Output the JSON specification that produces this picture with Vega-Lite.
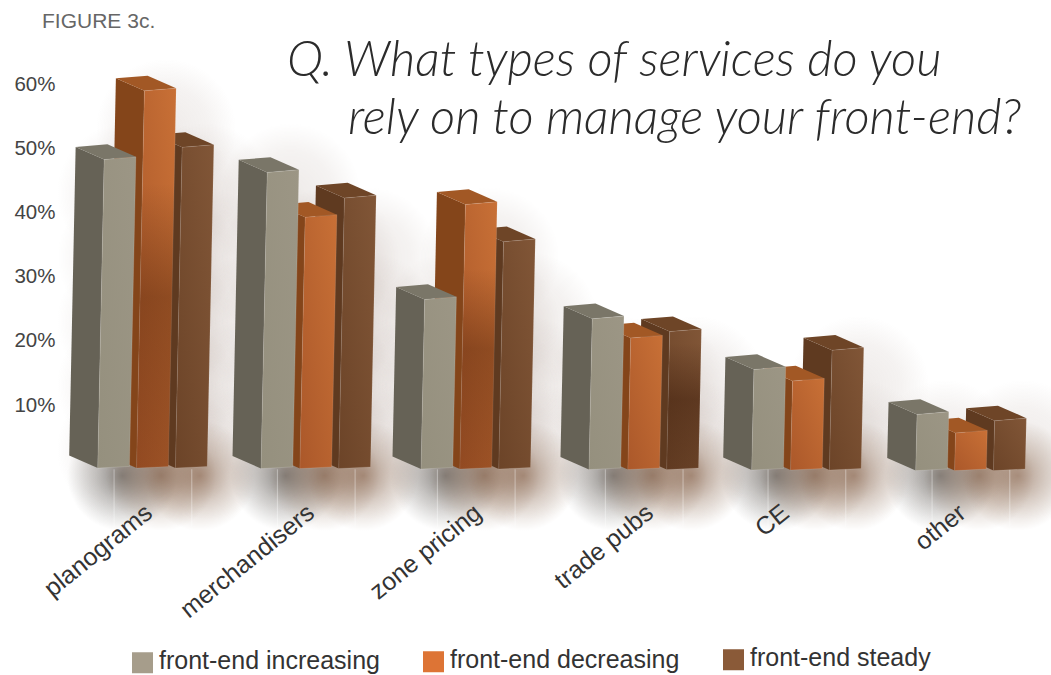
{
  "$schema": "https://vega.github.io/schema/vega-lite/v6.json",
  "width": 991,
  "height": 495,
  "autosize": {"type": "none"},
  "padding": {"left": 60, "top": 0, "right": 0, "bottom": 180},
  "background": "#ffffff",
  "data": {"values": [
    {"category": "planograms", "series": "front-end increasing", "value": 50.2},
    {"category": "planograms", "series": "front-end decreasing", "value": 60.9},
    {"category": "planograms", "series": "front-end steady", "value": 52.1},
    {"category": "merchandisers", "series": "front-end increasing", "value": 48.2},
    {"category": "merchandisers", "series": "front-end decreasing", "value": 41.2},
    {"category": "merchandisers", "series": "front-end steady", "value": 44.2},
    {"category": "zone pricing", "series": "front-end increasing", "value": 28.4},
    {"category": "zone pricing", "series": "front-end decreasing", "value": 43.2},
    {"category": "zone pricing", "series": "front-end steady", "value": 37.4},
    {"category": "trade pubs", "series": "front-end increasing", "value": 25.4},
    {"category": "trade pubs", "series": "front-end decreasing", "value": 22.4},
    {"category": "trade pubs", "series": "front-end steady", "value": 23.4},
    {"category": "CE", "series": "front-end increasing", "value": 17.5},
    {"category": "CE", "series": "front-end decreasing", "value": 15.7},
    {"category": "CE", "series": "front-end steady", "value": 20.5},
    {"category": "other", "series": "front-end increasing", "value": 10.5},
    {"category": "other", "series": "front-end decreasing", "value": 7.6},
    {"category": "other", "series": "front-end steady", "value": 9.5}
  ]},
  "transform": [
    {"calculate": "indexof(['planograms','merchandisers','zone pricing','trade pubs','CE','other'], datum.category)", "as": "g"},
    {"calculate": "indexof(['front-end increasing','front-end decreasing','front-end steady'], datum.series)", "as": "s"},
    {"calculate": "[0,0.9976,1.975,3.001,3.995,4.997][datum.g] + 0.2374*datum.s", "as": "left"},
    {"calculate": "0.2 - 0.08*datum.g", "as": "base"},
    {"calculate": "['side','top','front']", "as": "face"},
    {"flatten": ["face"]},
    {"calculate": "[0,1,2,3]", "as": "corner"},
    {"flatten": ["corner"]},
    {"calculate": "{side:[0,0,0,0],top:[0,1,1,0],front:[0,1,1,0]}[datum.face][datum.corner]", "as": "a"},
    {"calculate": "{side:[0,1,1,0],top:[1,1,1,1],front:[0,0,1,1]}[datum.face][datum.corner]", "as": "t"},
    {"calculate": "{side:[0,0,1,1],top:[0,0,1,1],front:[0,0,0,0]}[datum.face][datum.corner]", "as": "k"},
    {"calculate": "datum.left + datum.a*0.194 + datum.t*0.000784*datum.value - datum.k*0.174", "as": "px"},
    {"calculate": "(datum.t ? datum.value - 1.95 + datum.a*0.42 : datum.base + datum.a*0.25) + datum.k*1.95", "as": "py"},
    {"calculate": "datum.category + '|' + datum.series + '|' + datum.face", "as": "poly"},
    {"calculate": "datum.s + '-' + datum.face", "as": "tone"},
    {"calculate": "datum.left + 0.15 - 0.336", "as": "poolL"},
    {"calculate": "datum.left + 0.15 + 0.336", "as": "poolR"},
    {"calculate": "datum.left + 0.1", "as": "mid"}
  ],
  "config": {
    "view": {"stroke": null},
    "axis": {"grid": false, "domain": false, "ticks": false, "title": null}
  },
  "encoding": {
    "x": {
      "field": "px", "type": "quantitative",
      "scale": {"domain": [-0.2303, 5.8235], "nice": false, "zero": false},
      "axis": {
        "values": [0.31, 1.3, 2.32, 3.37, 4.2, 5.28],
        "labelExpr": "['planograms','merchandisers','zone pricing','trade pubs','CE','other'][floor(datum.value)]",
        "labelAngle": -39, "labelAlign": "right", "labelBaseline": "middle",
        "labelFont": "Liberation Sans", "labelFontSize": 25, "labelColor": "#333333",
        "labelPadding": 14, "labelOverlap": false, "labelBound": false, "labelFlush": false, "labelLimit": 300, "zindex": 1
      }
    },
    "y": {
      "field": "py", "type": "quantitative",
      "scale": {"domain": [-4, 73.1], "nice": false, "zero": false},
      "axis": {
        "values": [10, 20, 30, 40, 50, 60],
        "labelExpr": "datum.value + '%'",
        "labelFont": "Liberation Sans", "labelFontSize": 20.5, "labelColor": "#444444",
        "labelPadding": 5, "zindex": 1
      }
    }
  },
  "layer": [
    {
      "transform": [
        {"filter": "datum.face == 'front' && datum.corner == 0"},
        {"calculate": "[0,1,2,3,4,5,6]", "as": "step"},
        {"flatten": ["step"]},
        {"filter": "datum.step*10 <= datum.value - 8"},
        {"calculate": "3 + datum.step*10", "as": "cy"},
        {"calculate": "datum.left + 0.18 - 0.4276", "as": "gx0"},
        {"calculate": "datum.left + 0.18 + 0.4276", "as": "gx1"},
        {"calculate": "datum.cy + 10.9", "as": "gy1"},
        {"calculate": "datum.cy - 10.9", "as": "gy0"}
      ],
      "mark": {"type": "rect", "fill": {"gradient": "radial", "x1": 0.5, "y1": 0.5, "r1": 0, "x2": 0.5, "y2": 0.5, "r2": 0.5,
        "stops": [{"offset": 0, "color": "rgba(125,95,80,0.13)"}, {"offset": 0.6, "color": "rgba(125,95,80,0.08)"}, {"offset": 1, "color": "rgba(125,95,80,0)"}]}},
      "encoding": {
        "x": {"field": "gx0", "type": "quantitative"}, "x2": {"field": "gx1"},
        "y": {"field": "gy1", "type": "quantitative"}, "y2": {"field": "gy0"}
      }
    },
    {
      "transform": [{"filter": "datum.face == 'front' && datum.corner == 0 && datum.s == 0"}],
      "mark": {"type": "rect", "fill": {"gradient": "radial", "x1": 0.5, "y1": 0.5, "r1": 0, "x2": 0.5, "y2": 0.5, "r2": 0.5,
        "stops": [{"offset": 0, "color": "rgba(50,48,44,0.55)"}, {"offset": 0.5, "color": "rgba(60,56,50,0.26)"}, {"offset": 1, "color": "rgba(60,56,50,0)"}]}},
      "encoding": {
        "x": {"field": "poolL", "type": "quantitative"}, "x2": {"field": "poolR"},
        "y": {"datum": 7.57}, "y2": {"datum": -9.57}
      }
    },
    {
      "transform": [{"filter": "datum.face == 'front' && datum.corner == 0 && datum.s > 0"}],
      "mark": {"type": "rect", "fill": {"gradient": "radial", "x1": 0.5, "y1": 0.5, "r1": 0, "x2": 0.5, "y2": 0.5, "r2": 0.5,
        "stops": [{"offset": 0, "color": "rgba(110,65,35,0.5)"}, {"offset": 0.5, "color": "rgba(120,80,50,0.24)"}, {"offset": 1, "color": "rgba(120,80,50,0)"}]}},
      "encoding": {
        "x": {"field": "poolL", "type": "quantitative"}, "x2": {"field": "poolR"},
        "y": {"datum": 7.57}, "y2": {"datum": -9.57}
      }
    },
    {
      "transform": [{"filter": "datum.face == 'front' && datum.corner == 0 && datum.s != 1"}],
      "mark": {"type": "rule", "stroke": "#ffffff", "strokeWidth": 1, "opacity": 0.4},
      "encoding": {
        "x": {"field": "mid", "type": "quantitative"},
        "y": {"datum": 0}, "y2": {"datum": -9}
      }
    },
    {
      "transform": [{"filter": "datum.s == 2 && datum.face != 'front'"}],
      "mark": {"type": "line", "filled": true, "interpolate": "linear-closed", "strokeWidth": 0},
      "encoding": {
        "detail": {"field": "poly"},
        "order": {"field": "corner", "type": "quantitative"},
        "fill": {"field": "tone", "legend": null, "scale": {
          "domain": ["0-side", "0-top", "1-side", "1-top", "2-side", "2-top"],
          "range": ["#666256", "#7a7668", "#84451a", "#a25825", "#5f3a20", "#6e4527"]}}
      }
    },
    {
      "transform": [{"filter": "datum.s == 2 && datum.face == 'front'"}],
      "mark": {"type": "line", "filled": true, "interpolate": "linear-closed", "stroke": "rgba(255,255,255,0.16)", "strokeWidth": 0.7,
        "fill": {"gradient": "linear", "x1": 0, "y1": 1, "x2": 1, "y2": 0, "stops": [{"offset": 0, "color": "#6c4428"}, {"offset": 1, "color": "#815637"}]}},
      "encoding": {"detail": {"field": "poly"}, "order": {"field": "corner", "type": "quantitative"}}
    },
    {
      "transform": [{"filter": "datum.s == 2 && datum.face == 'front' && datum.category == 'trade pubs'"}],
      "mark": {"type": "line", "filled": true, "interpolate": "linear-closed", "strokeWidth": 0,
        "fill": {"gradient": "linear", "x1": 0.5, "y1": 0, "x2": 0.5, "y2": 1, "stops": [{"offset": 0.1, "color": "rgba(50,20,5,0)"}, {"offset": 0.5, "color": "rgba(50,20,5,0.4)"}, {"offset": 1, "color": "rgba(50,20,5,0.2)"}]}},
      "encoding": {"detail": {"field": "poly"}, "order": {"field": "corner", "type": "quantitative"}}
    },
    {
      "transform": [{"filter": "datum.s == 1 && datum.face != 'front'"}],
      "mark": {"type": "line", "filled": true, "interpolate": "linear-closed", "strokeWidth": 0},
      "encoding": {
        "detail": {"field": "poly"},
        "order": {"field": "corner", "type": "quantitative"},
        "fill": {"field": "tone", "legend": null}
      }
    },
    {
      "transform": [{"filter": "datum.s == 1 && datum.face == 'front'"}],
      "mark": {"type": "line", "filled": true, "interpolate": "linear-closed", "stroke": "rgba(255,255,255,0.16)", "strokeWidth": 0.7,
        "fill": {"gradient": "linear", "x1": 0, "y1": 1, "x2": 1, "y2": 0, "stops": [{"offset": 0, "color": "#ab582a"}, {"offset": 1, "color": "#c87036"}]}},
      "encoding": {"detail": {"field": "poly"}, "order": {"field": "corner", "type": "quantitative"}}
    },
    {
      "transform": [{"filter": "datum.s == 1 && datum.face == 'front' && (datum.category == 'planograms' || datum.category == 'zone pricing')"}],
      "mark": {"type": "line", "filled": true, "interpolate": "linear-closed", "strokeWidth": 0,
        "fill": {"gradient": "linear", "x1": 0.5, "y1": 0, "x2": 0.5, "y2": 1, "stops": [{"offset": 0.25, "color": "rgba(60,25,5,0)"}, {"offset": 0.55, "color": "rgba(60,25,5,0.36)"}, {"offset": 1, "color": "rgba(60,25,5,0.22)"}]}},
      "encoding": {"detail": {"field": "poly"}, "order": {"field": "corner", "type": "quantitative"}}
    },
    {
      "transform": [{"filter": "datum.s == 0 && datum.face != 'front'"}],
      "mark": {"type": "line", "filled": true, "interpolate": "linear-closed", "strokeWidth": 0},
      "encoding": {
        "detail": {"field": "poly"},
        "order": {"field": "corner", "type": "quantitative"},
        "fill": {"field": "tone", "legend": null}
      }
    },
    {
      "transform": [{"filter": "datum.s == 0 && datum.face == 'front'"}],
      "mark": {"type": "line", "filled": true, "interpolate": "linear-closed", "stroke": "rgba(255,255,255,0.2)", "strokeWidth": 0.7,
        "fill": {"gradient": "linear", "x1": 0, "y1": 1, "x2": 1, "y2": 0, "stops": [{"offset": 0, "color": "#95907e"}, {"offset": 1, "color": "#9c9685"}]}},
      "encoding": {"detail": {"field": "poly"}, "order": {"field": "corner", "type": "quantitative"}}
    },
    {
      "transform": [{"filter": "datum.face == 'front' && datum.corner == 0"}],
      "mark": {"type": "square", "opacity": 0, "size": 1},
      "encoding": {
        "x": {"field": "left", "type": "quantitative"},
        "y": {"field": "value", "type": "quantitative"},
        "color": {
          "field": "series", "type": "nominal",
          "scale": {"domain": ["front-end increasing", "front-end decreasing", "front-end steady"], "range": ["#a69d8b", "#dd7435", "#8a5a38"]},
          "sort": null,
          "legend": {
            "orient": "none", "legendX": 70, "legendY": 647, "direction": "horizontal", "columns": 3,
            "title": null, "symbolType": "square", "symbolSize": 441, "symbolOpacity": 1, "symbolStrokeWidth": 0,
            "labelFont": "Liberation Sans", "labelFontSize": 25, "labelColor": "#333333", "labelLimit": 400,
            "columnPadding": 41, "labelOffset": 4,
            "encode": {
              "symbols": {"update": {"y": {"signal": "12.5 + [3,1,-3][indexof(['front-end increasing','front-end decreasing','front-end steady'], datum.value)]"}}},
              "labels": {"update": {"dy": {"signal": "[1,-1,-5][indexof(['front-end increasing','front-end decreasing','front-end steady'], datum.value)]"}}}
            }
          }
        }
      }
    },
    {
      "transform": [{"filter": "datum.face == 'front' && datum.corner == 0 && datum.g == 0 && datum.s == 0"}],
      "mark": {"type": "text", "align": "left", "baseline": "alphabetic", "font": "Liberation Sans", "fontSize": 21, "fill": "#666666"},
      "encoding": {"x": {"datum": -0.34}, "y": {"datum": 68.7}, "text": {"value": "FIGURE 3c."}}
    },
    {
      "transform": [{"filter": "datum.face == 'front' && datum.corner == 0 && datum.g == 0 && datum.s == 0"}],
      "mark": {"type": "text", "align": "left", "baseline": "alphabetic", "font": "Lato", "fontStyle": "italic", "fontWeight": 300, "fontSize": 49, "fill": "#2b2b2b"},
      "encoding": {"x": {"datum": 1.156}, "y": {"datum": 61.3}, "text": {"value": "Q. What types of services do you"}}
    },
    {
      "transform": [{"filter": "datum.face == 'front' && datum.corner == 0 && datum.g == 0 && datum.s == 0"}],
      "mark": {"type": "text", "align": "left", "baseline": "alphabetic", "font": "Lato", "fontStyle": "italic", "fontWeight": 300, "fontSize": 49, "fill": "#2b2b2b"},
      "encoding": {"x": {"datum": 1.529}, "y": {"datum": 52.2}, "text": {"value": "rely on to manage your front-end?"}}
    }
  ]
}
